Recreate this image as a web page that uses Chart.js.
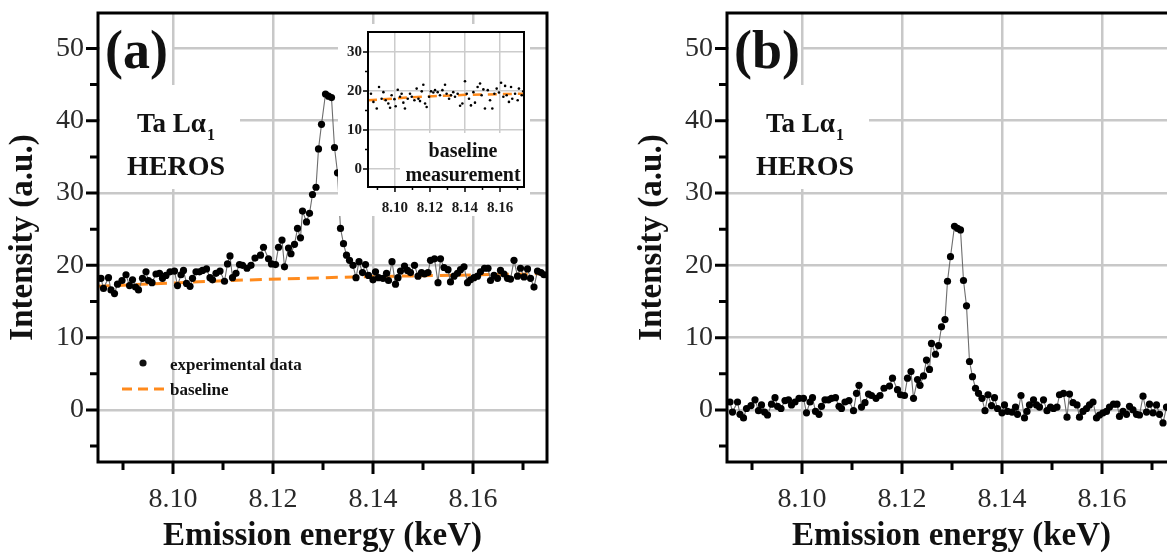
<!DOCTYPE html>
<html><head><meta charset="utf-8">
<script src="https://cdn.jsdelivr.net/npm/chart.js@4.4.0/dist/chart.umd.min.js"></script>
<style>
html,body{margin:0;padding:0;background:#fff;overflow:hidden;width:1167px;height:554px;}
.wrap{position:absolute;}
canvas{display:block;}
</style></head><body>
<div class="wrap" style="left:0;top:0;width:560px;height:554px"><canvas id="ca" width="560" height="554"></canvas></div>
<div class="wrap" style="left:629px;top:0;width:560px;height:554px"><canvas id="cb" width="560" height="554"></canvas></div>
<div class="wrap" style="left:338px;top:24px;width:192px;height:192px;background:#fff"><canvas id="ci" width="192" height="192"></canvas></div>
<script>
// ---------- data ----------
const energies = [
8.0856,8.0861,8.0871,8.0876,8.0883,8.0889,8.0898,8.0906,8.0913,8.0919,
8.0925,8.0931,8.0939,8.0946,8.0951,8.0958,8.0966,8.0973,8.0979,8.0986,
8.0994,8.1003,8.1009,8.1016,8.1021,8.1027,8.1034,8.1039,8.1046,8.1053,
8.1059,8.1067,8.1074,8.1079,8.1086,8.1094,8.1103,8.1109,8.1114,8.1119,
8.1126,8.1133,8.1139,
8.1148,8.1156,8.1164,8.1175,8.1181,8.1191,8.1197,8.1205,8.1211,8.1218,
8.1223,8.1231,8.1236,8.1243,8.1249,8.1255,8.1259,8.1267,8.1273,8.1279,
8.1286,8.1291,8.1297,8.1305,8.1311,8.1317,8.1323,8.1329,8.1335,8.1341,
8.1347,8.1353,8.1360,8.1366,8.1372,8.1379,8.1385,8.1391,
8.1400,8.1405,8.1411,8.1420,8.1427,8.1431,8.1438,8.1445,8.1450,8.1455,
8.1463,8.1469,8.1475,8.1483,8.1490,8.1497,8.1503,8.1510,8.1515,8.1523,
8.1530,8.1535,8.1542,8.1550,8.1555,8.1562,8.1569,8.1575,8.1582,8.1589,
8.1595,8.1602,8.1609,8.1615,8.1623,8.1630,8.1635,8.1642,8.1649,8.1655,
8.1662,8.1669,8.1675,8.1682,8.1689,8.1695,8.1702,8.1709,8.1715,8.1722,
8.1729,8.1736,8.1742];

// panel (a): measured intensity
const intensityA = [
18.2,16.8,18.3,16.6,16.1,17.4,17.9,18.7,17.2,18.0,
17.0,16.6,18.2,19.1,17.9,17.6,18.8,18.9,18.2,18.6,
19.1,19.2,17.2,18.7,19.3,17.5,17.1,18.2,19.1,19.1,
19.3,19.5,18.3,18.0,18.9,19.2,17.8,20.2,21.3,18.3,
18.9,20.1,20.0,
19.6,20.0,21.0,21.4,22.5,20.9,20.2,20.1,22.5,23.5,
19.8,22.4,21.6,22.9,25.1,23.8,27.5,26.0,27.2,29.8,
30.8,36.1,39.5,43.7,43.4,43.2,36.3,32.8,25.1,23.0,
21.4,20.7,20.0,18.3,20.5,19.0,20.1,18.6,
18.0,19.1,18.3,18.2,18.9,17.9,20.5,17.4,18.3,19.2,
19.9,19.3,19.0,20.0,18.5,19.0,18.8,19.0,20.7,20.9,
17.6,20.9,19.7,19.4,17.7,18.5,18.9,19.4,19.8,17.6,
18.0,18.3,18.5,19.1,19.6,19.6,17.9,18.6,18.2,19.3,
18.8,18.2,18.1,20.7,18.5,19.6,18.4,19.5,18.2,17.0,
19.2,19.0,18.7];

// panel (b): baseline-subtracted intensity
const intensityB = [
1.1,-0.3,1.1,-0.6,-1.1,0.2,0.6,1.4,-0.1,0.7,
-0.3,-0.7,0.8,1.7,0.5,0.2,1.3,1.4,0.7,1.1,
1.6,1.6,-0.4,1.1,1.7,-0.2,-0.6,0.5,1.4,1.4,
1.6,1.7,0.5,0.2,1.1,1.3,-0.1,2.3,3.4,0.4,
1.0,2.2,2.0,
1.6,2.0,3.0,3.3,4.4,2.8,2.1,2.0,4.4,5.3,
1.6,4.2,3.4,4.7,6.9,5.6,9.2,7.7,8.9,11.5,
12.5,17.8,21.2,25.4,25.1,24.9,17.9,14.4,6.7,4.6,
3.0,2.3,1.6,-0.1,2.1,0.6,1.7,0.2,
-0.4,0.7,-0.2,-0.3,0.4,-0.6,2.0,-1.1,-0.2,0.7,
1.4,0.7,0.4,1.4,-0.1,0.4,0.2,0.4,2.1,2.3,
-1.0,2.2,1.0,0.7,-1.0,-0.2,0.2,0.7,1.1,-1.1,
-0.7,-0.4,-0.2,0.4,0.8,0.8,-0.9,-0.2,-0.6,0.5,
0.0,-0.6,-0.7,1.9,-0.3,0.8,-0.4,0.7,-0.6,-1.8,
0.4,0.2,-0.1];

const baselineE = [8.085, 8.111, 8.136, 8.1748];
const baselineI = [17.1, 17.9, 18.4, 18.85];

// inset: baseline measurement
const insetE = [8.0863,8.0877,8.0896,8.0909,8.0924,8.0934,8.0947,8.0962,8.0972,8.0981,
8.0997,8.1004,8.1016,8.1029,8.1038,8.1048,8.1057,8.1073,8.1086,8.1096,
8.1111,8.1124,8.1134,8.1143,8.1153,8.1162,8.1172,8.1181,8.1195,8.1206,
8.1219,8.1229,8.1244,8.1257,8.1271,8.1286,8.1295,8.1309,8.1320,8.1333,
8.1343,8.1358,8.1372,8.1385,8.1400,8.1410,8.1423,8.1434,8.1448,8.1457,
8.1472,8.1486,8.1495,8.1505,8.1514,8.1530,8.1543,8.1556,8.1568,8.1581,
8.1594,8.1606,8.1619,8.1629,8.1638,8.1651,8.1663,8.1670,8.1686,8.1701,
8.1708,8.1724,8.1733];
const insetI = [19.3,17.2,15.5,21.0,18.0,19.7,17.6,16.8,15.7,18.9,
17.9,16.1,20.3,18.5,19.3,17.0,15.5,18.0,19.3,18.5,
17.6,20.6,18.0,17.4,19.9,21.6,16.8,15.9,18.5,19.9,
19.6,20.2,19.7,18.9,20.2,21.6,19.3,18.0,18.9,19.7,
18.5,19.3,16.2,16.8,22.5,19.3,18.0,16.3,19.7,17.0,
21.0,21.9,18.9,20.4,15.5,20.2,17.6,15.5,19.3,20.6,
19.6,22.1,18.5,21.3,18.9,17.2,21.0,18.0,19.3,17.6,
20.6,18.9,19.9];
const insetBaseE = [8.0846, 8.110, 8.140, 8.1737];
const insetBaseI = [17.6, 18.4, 19.0, 19.3];

// tick labels
const xMajorTicks = [8.10, 8.12, 8.14, 8.16];
const xMinorTicks = [8.09, 8.11, 8.13, 8.15, 8.17];
const yMajorTicks = [0, 10, 20, 30, 40, 50];
const yMinorTicks = [-5, 5, 15, 25, 35, 45];
const insetYMajor = [0, 10, 20, 30];
const insetYMinor = [5, 15, 25];

// ---------- helpers ----------
const FAM = '"Liberation Serif", "DejaVu Serif", serif';
Chart.defaults.font.family = FAM;
const ORANGE = '#ff8a1c';

function pts(xs, ys) { return xs.map((x, i) => ({x: x, y: ys[i]})); }
function noPad(s) { s.paddingTop = 0; s.paddingBottom = 0; s.paddingLeft = 0; s.paddingRight = 0; }

function decoPlugin(o) {
  return {
    id: 'deco',
    afterDraw(chart) {
      const {ctx, chartArea: a, scales: {x, y}} = chart;
      ctx.save();
      ctx.strokeStyle = '#000';
      ctx.lineWidth = o.tickWidth;
      ctx.beginPath();
      o.xMajor.forEach(v => { const p = x.getPixelForValue(v); ctx.moveTo(p, a.bottom); ctx.lineTo(p, a.bottom + o.major); });
      o.xMinor.forEach(v => { const p = x.getPixelForValue(v); if (p > a.left && p < a.right) { ctx.moveTo(p, a.bottom); ctx.lineTo(p, a.bottom + o.minor); } });
      o.yMajor.forEach(v => { const p = y.getPixelForValue(v); ctx.moveTo(a.left, p); ctx.lineTo(a.left - o.major, p); });
      o.yMinor.forEach(v => { const p = y.getPixelForValue(v); if (p > a.top && p < a.bottom) { ctx.moveTo(a.left, p); ctx.lineTo(a.left - o.minor, p); } });
      ctx.stroke();
      ctx.lineWidth = o.frame;
      ctx.strokeRect(a.left, a.top, a.right - a.left, a.bottom - a.top);
      ctx.restore();
    }
  };
}

function notesPlugin(panel) {
  return {
    id: 'notes',
    beforeDatasetsDraw(chart) {
      const {ctx, chartArea: a} = chart;
      ctx.save();
      ctx.fillStyle = '#fff';
      ctx.fillRect(a.left + 2, a.top + 2, 72, 74);
      ctx.fillRect(a.left + 2, a.top + 72, 140, 104);
      ctx.restore();
    },
    afterDatasetsDraw(chart) {
      const {ctx, chartArea: a} = chart;
      ctx.save();
      ctx.fillStyle = '#111';
      ctx.textBaseline = 'alphabetic';
      ctx.textAlign = 'left';
      ctx.font = 'bold 54px ' + FAM;
      ctx.fillText(panel === 'a' ? '(a)' : '(b)', a.left + 7, a.top + 55);
      const cx = a.left + 78;
      ctx.font = 'bold 27px ' + FAM;
      const w1 = ctx.measureText('Ta L\u03B1').width;
      ctx.font = 'bold 16px ' + FAM;
      const w2 = ctx.measureText('1').width;
      const sx = cx - (w1 + w2 + 1) / 2;
      ctx.font = 'bold 27px ' + FAM;
      ctx.fillText('Ta L\u03B1', sx, a.top + 119);
      ctx.font = 'bold 16px ' + FAM;
      ctx.fillText('1', sx + w1 + 1, a.top + 127);
      ctx.font = 'bold 28px ' + FAM;
      ctx.textAlign = 'center';
      ctx.fillText('HEROS', cx, a.top + 162);
      if (panel === 'a') {
        ctx.textAlign = 'left';
        ctx.beginPath();
        ctx.arc(a.left + 45, a.top + 350, 3.6, 0, Math.PI * 2);
        ctx.fill();
        ctx.font = 'bold 17px ' + FAM;
        ctx.fillText('experimental data', a.left + 72, a.top + 357);
        ctx.fillText('baseline', a.left + 72, a.top + 382);
        ctx.strokeStyle = ORANGE;
        ctx.lineWidth = 3;
        ctx.setLineDash([10, 6]);
        ctx.beginPath();
        ctx.moveTo(a.left + 24, a.top + 376);
        ctx.lineTo(a.left + 68, a.top + 376);
        ctx.stroke();
      }
      ctx.restore();
    }
  };
}

function mainChart(id, values, panel) {
  const datasets = [{
    data: pts(energies, values),
    showLine: true,
    borderColor: '#6e6e6e',
    borderWidth: 1.1,
    pointRadius: 3.6,
    pointBackgroundColor: '#000',
    pointBorderWidth: 0,
    pointHoverRadius: 3.6
  }];
  if (panel === 'a') {
    datasets.push({
      data: pts(baselineE, baselineI),
      showLine: true,
      borderColor: ORANGE,
      borderWidth: 3,
      borderDash: [12, 7],
      pointRadius: 0
    });
  }
  return new Chart(document.getElementById(id), {
    type: 'scatter',
    data: {datasets},
    options: {
      responsive: false,
      animation: false,
      events: [],
      layout: {padding: {top: 13, right: 13, left: 0, bottom: 0}},
      plugins: {legend: {display: false}, tooltip: {enabled: false}},
      scales: {
        x: {
          type: 'linear', min: 8.085, max: 8.1748,
          afterBuildTicks: s => { s.ticks = xMajorTicks.map(v => ({value: v})); },
          afterFit: s => { s.height = 92; noPad(s); },
          grid: {color: '#c8c8c8', lineWidth: 2.5, drawTicks: false},
          border: {display: false},
          ticks: {font: {size: 28}, color: '#2a2a2a', padding: 21, autoSkip: false, maxRotation: 0,
                  callback: v => Number(v).toFixed(2)},
          title: {display: true, text: 'Emission energy (keV)', color: '#111',
                  font: {size: 33, weight: 'bold'}, padding: {top: 0, bottom: -2}}
        },
        y: {
          type: 'linear', min: -7.2, max: 54.9,
          afterBuildTicks: s => { s.ticks = yMajorTicks.map(v => ({value: v})); },
          afterFit: s => { s.width = 98; noPad(s); },
          grid: {color: '#c8c8c8', lineWidth: 2.5, drawTicks: false},
          border: {display: false},
          ticks: {font: {size: 28}, color: '#2a2a2a', padding: 14, callback: v => String(v)},
          title: {display: true, text: 'Intensity (a.u.)', color: '#111',
                  font: {size: 33, weight: 'bold'}, padding: {top: 4, bottom: 0}}
        }
      }
    },
    plugins: [notesPlugin(panel), decoPlugin({xMajor: xMajorTicks, xMinor: xMinorTicks, yMajor: yMajorTicks, yMinor: yMinorTicks, major: 12, minor: 8, tickWidth: 3, frame: 3})]
  });
}

mainChart('ca', intensityA, 'a');
mainChart('cb', intensityB, 'b');

// inset
const insetNotes = {
  id: 'insetNotes',
  beforeDatasetsDraw(chart) {
    const {ctx, chartArea: a} = chart;
    ctx.save();
    ctx.fillStyle = '#fff';
    ctx.fillRect(a.left + 32, a.top + 101, a.right - a.left - 33, a.bottom - a.top - 102);
    ctx.restore();
  },
  afterDatasetsDraw(chart) {
    const {ctx, chartArea: a} = chart;
    ctx.save();
    ctx.fillStyle = '#111';
    ctx.textAlign = 'center';
    ctx.textBaseline = 'alphabetic';
    ctx.font = 'bold 20px ' + FAM;
    ctx.fillText('baseline', a.left + 95, a.top + 125);
    ctx.fillText('measurement', a.left + 95, a.top + 149);
    ctx.restore();
  }
};

new Chart(document.getElementById('ci'), {
  type: 'scatter',
  data: {datasets: [
    {data: pts(insetE, insetI), pointRadius: 1.3, pointBackgroundColor: '#000', pointBorderWidth: 0, showLine: false},
    {data: pts(insetBaseE, insetBaseI), showLine: true, borderColor: ORANGE, borderWidth: 2.5, borderDash: [9, 6], pointRadius: 0}
  ]},
  options: {
    responsive: false,
    animation: false,
    events: [],
    layout: {padding: {top: 8, right: 6, left: 0, bottom: 0}},
    plugins: {legend: {display: false}, tooltip: {enabled: false}},
    scales: {
      x: {
        type: 'linear', min: 8.0846, max: 8.1737,
        afterBuildTicks: s => { s.ticks = xMajorTicks.map(v => ({value: v})); },
        afterFit: s => { s.height = 29; noPad(s); },
        grid: {color: '#cccccc', lineWidth: 1.5, drawTicks: false},
        border: {display: false},
        ticks: {font: {size: 15, weight: 'bold'}, color: '#1a1a1a', padding: 12, autoSkip: false, maxRotation: 0,
                callback: v => Number(v).toFixed(2)}
      },
      y: {
        type: 'linear', min: -4.6, max: 35.1,
        afterBuildTicks: s => { s.ticks = insetYMajor.map(v => ({value: v})); },
        afterFit: s => { s.width = 30; noPad(s); },
        grid: {color: '#cccccc', lineWidth: 1.5, drawTicks: false},
        border: {display: false},
        ticks: {font: {size: 15, weight: 'bold'}, color: '#1a1a1a', padding: 6, callback: v => String(v)}
      }
    }
  },
  plugins: [insetNotes, decoPlugin({xMajor: xMajorTicks, xMinor: xMinorTicks, yMajor: insetYMajor, yMinor: insetYMinor, major: 5, minor: 3, tickWidth: 1.5, frame: 2})]
});
</script>
</body></html>
